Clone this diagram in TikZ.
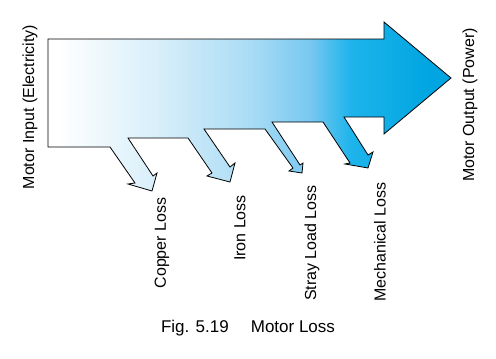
\documentclass[tikz,border=0pt]{standalone}
\usepackage{fontspec}
\setmainfont{Liberation Sans}
\definecolor{flowA}{RGB}{215,238,250}
\definecolor{flowB}{RGB}{170,220,245}
\definecolor{flowC}{RGB}{120,200,240}
\definecolor{flowD}{RGB}{30,180,235}
\definecolor{flowE}{RGB}{0,165,225}
\pgfdeclarehorizontalshading{motorflow}{100bp}{color(0bp)=(white); color(26bp)=(white);
  color(38.9bp)=(flowA); color(50bp)=(flowB); color(57.5bp)=(flowC);
  color(62.5bp)=(flowD); color(72.5bp)=(flowE); color(100bp)=(flowE)}
\tikzset{flowline/.style={line width=0.8pt,line join=miter,shading=motorflow}}
\tikzset{losslabel/.style={rotate=90,inner sep=0pt,font=\fontsize{16}{19}\selectfont}}

\begin{document}
\begin{tikzpicture}[x=1pt,y=-1pt]
  \useasboundingbox (0,0) rectangle (496,359);
  % main flow with the four losses
  \shadedraw[flowline] (48,39) -- (384,39) -- (384,22) -- (451,78) -- (384,134) -- (384,117)
    -- (344,117) -- (368,155) -- (373,152) -- (368,168) -- (345,164) -- (350,163) -- (323,122)
    -- (272,122) -- (300,165) -- (303,163) -- (302,173) -- (289,171) -- (293,168) -- (265,129)
    -- (204,129) -- (230,167) -- (235,163) -- (230,182) -- (207,176) -- (212,173) -- (188,138)
    -- (128,138) -- (153,176) -- (157,173) -- (152,191) -- (128,184) -- (135,183) -- (110,147)
    -- (48,147) -- cycle;
  \node[losslabel] (input) at (30,107) {Motor Input (Electricity)};
  \node[losslabel] (output) at (470,105) {Motor Output (Power)};
  \node[losslabel] (copper) at (162,243) {Copper Loss};
  \node[losslabel] (iron) at (240,228) {Iron Loss};
  \node[losslabel] (stray) at (312,243) {Stray Load Loss};
  \node[losslabel] (mech) at (380,242) {Mechanical Loss};
  \node[font=\fontsize{17}{20}\selectfont] (caption) at (248,328) {Fig. 5.19\hspace{1.3em}Motor Loss};
\end{tikzpicture}
\end{document}
